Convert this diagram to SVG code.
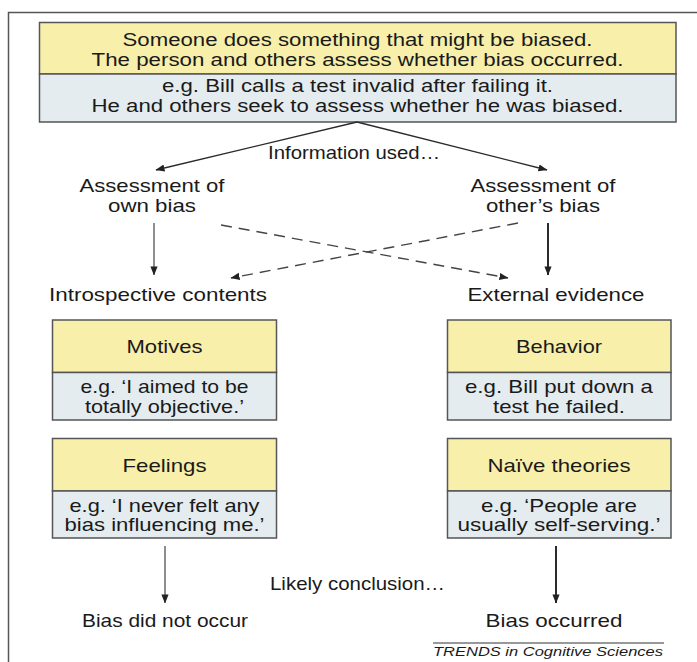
<svg xmlns="http://www.w3.org/2000/svg" width="697" height="662" viewBox="0 0 697 662">
  <defs>
    <marker id="ah" viewBox="0 0 10 10" refX="9.5" refY="5" markerWidth="9" markerHeight="10" markerUnits="userSpaceOnUse" orient="auto">
      <path d="M0,1 L10,5 L0,9 Z" fill="#222"/>
    </marker>
    <style>
      .t { font-family: "Liberation Sans", Arial, sans-serif; font-size: 18.5px; fill: #1a1a1a; text-anchor: middle; }
      .top { font-size: 17.5px; }
      .head { fill: #f7efaa; stroke: #555; stroke-width: 1.5; }
      .ex { fill: #e4ecf0; stroke: #555; stroke-width: 1.5; }
      .ln { stroke: #2a2a2a; stroke-width: 1.4; fill: none; marker-end: url(#ah); }
      .thin { stroke: #444; stroke-width: 1.2; }
      .bold { stroke: #151515; stroke-width: 1.8; }
      .dash { stroke-dasharray: 11 7; stroke: #444; }
    </style>
  </defs>
  <rect width="697" height="662" fill="#fff"/>
  <!-- page frame (top and left rules) -->
  <path d="M8.5,662 V12.5 H697" fill="none" stroke="#555" stroke-width="1.5"/>

  <g id="event">
    <rect class="head" x="39.5" y="22.5" width="636.5" height="51.5"/>
    <rect class="ex" x="39.5" y="74" width="636.5" height="48"/>
    <text class="t top" x="357.5" y="46" textLength="470" lengthAdjust="spacingAndGlyphs">Someone does something that might be biased.</text>
    <text class="t top" x="357.5" y="65.6" textLength="532" lengthAdjust="spacingAndGlyphs">The person and others assess whether bias occurred.</text>
    <text class="t top" x="357.5" y="91.5" textLength="391" lengthAdjust="spacingAndGlyphs">e.g. Bill calls a test invalid after failing it.</text>
    <text class="t top" x="357.5" y="111.5" textLength="532" lengthAdjust="spacingAndGlyphs">He and others seek to assess whether he was biased.</text>
  </g>

  <g id="info-label"><text class="t" x="354" y="159" textLength="172" lengthAdjust="spacingAndGlyphs">Information used…</text></g>

  <g id="own-assessment">
    <text class="t" x="152" y="192" textLength="145" lengthAdjust="spacingAndGlyphs">Assessment of</text>
    <text class="t" x="152" y="211.5" textLength="88" lengthAdjust="spacingAndGlyphs">own bias</text>
  </g>
  <g id="other-assessment">
    <text class="t" x="543" y="192" textLength="145" lengthAdjust="spacingAndGlyphs">Assessment of</text>
    <text class="t" x="543" y="211.5" textLength="114" lengthAdjust="spacingAndGlyphs">other’s bias</text>
  </g>

  <g id="introspective"><text class="t" x="158" y="300.5" textLength="218" lengthAdjust="spacingAndGlyphs">Introspective contents</text></g>
  <g id="external"><text class="t" x="556" y="300.5" textLength="177" lengthAdjust="spacingAndGlyphs">External evidence</text></g>

  <g id="motives">
    <rect class="head" x="52.5" y="320" width="224" height="52.5"/>
    <rect class="ex" x="52.5" y="372.5" width="224" height="47.5"/>
    <text class="t" x="164.5" y="353" textLength="76" lengthAdjust="spacingAndGlyphs">Motives</text>
    <text class="t" x="164.5" y="393" textLength="168" lengthAdjust="spacingAndGlyphs">e.g. ‘I aimed to be</text>
    <text class="t" x="164.5" y="412.5" textLength="159" lengthAdjust="spacingAndGlyphs">totally objective.’</text>
  </g>
  <g id="feelings">
    <rect class="head" x="52.5" y="438.5" width="224" height="52.5"/>
    <rect class="ex" x="52.5" y="491" width="224" height="47"/>
    <text class="t" x="164.5" y="471.5" textLength="84" lengthAdjust="spacingAndGlyphs">Feelings</text>
    <text class="t" x="164.5" y="511.5" textLength="190" lengthAdjust="spacingAndGlyphs">e.g. ‘I never felt any</text>
    <text class="t" x="164.5" y="531" textLength="200" lengthAdjust="spacingAndGlyphs">bias influencing me.’</text>
  </g>
  <g id="behavior">
    <rect class="head" x="447.5" y="320" width="223.5" height="52.5"/>
    <rect class="ex" x="447.5" y="372.5" width="223.5" height="47.5"/>
    <text class="t" x="559" y="353" textLength="86" lengthAdjust="spacingAndGlyphs">Behavior</text>
    <text class="t" x="559" y="393" textLength="188" lengthAdjust="spacingAndGlyphs">e.g. Bill put down a</text>
    <text class="t" x="559" y="412.5" textLength="132" lengthAdjust="spacingAndGlyphs">test he failed.</text>
  </g>
  <g id="naive-theories">
    <rect class="head" x="447.5" y="438.5" width="223.5" height="52.5"/>
    <rect class="ex" x="447.5" y="491" width="223.5" height="47"/>
    <text class="t" x="559" y="471.5" textLength="143" lengthAdjust="spacingAndGlyphs">Naïve theories</text>
    <text class="t" x="559" y="511.5" textLength="156" lengthAdjust="spacingAndGlyphs">e.g. ‘People are</text>
    <text class="t" x="559" y="531" textLength="203" lengthAdjust="spacingAndGlyphs">usually self-serving.’</text>
  </g>

  <g id="conclusion-label"><text class="t" x="357.5" y="590" textLength="175" lengthAdjust="spacingAndGlyphs">Likely conclusion…</text></g>
  <g id="no-bias"><text class="t" x="165" y="626.5" textLength="166" lengthAdjust="spacingAndGlyphs">Bias did not occur</text></g>
  <g id="bias"><text class="t" x="554" y="626.5" textLength="137" lengthAdjust="spacingAndGlyphs">Bias occurred</text></g>

  <g id="credit">
    <line x1="433" y1="643" x2="664" y2="643" stroke="#333" stroke-width="1"/>
    <text x="663" y="655.5" font-family="Liberation Sans, Arial, sans-serif" font-size="13.5" font-style="italic" text-anchor="end" fill="#1a1a1a" textLength="230" lengthAdjust="spacingAndGlyphs">TRENDS in Cognitive Sciences</text>
  </g>

  <g id="connectors">
    <line class="ln" x1="357" y1="122" x2="156" y2="170"/>
    <line class="ln" x1="357" y1="122" x2="547" y2="170"/>
    <line class="ln thin" x1="154" y1="223" x2="154" y2="275"/>
    <line class="ln bold" x1="548" y1="223" x2="548" y2="275"/>
    <line class="ln dash" x1="221" y1="225" x2="508" y2="278"/>
    <line class="ln dash" x1="518" y1="223" x2="231" y2="278"/>
    <line class="ln thin" x1="165" y1="546" x2="165" y2="603"/>
    <line class="ln bold" x1="556" y1="546" x2="556" y2="603"/>
  </g>
</svg>
